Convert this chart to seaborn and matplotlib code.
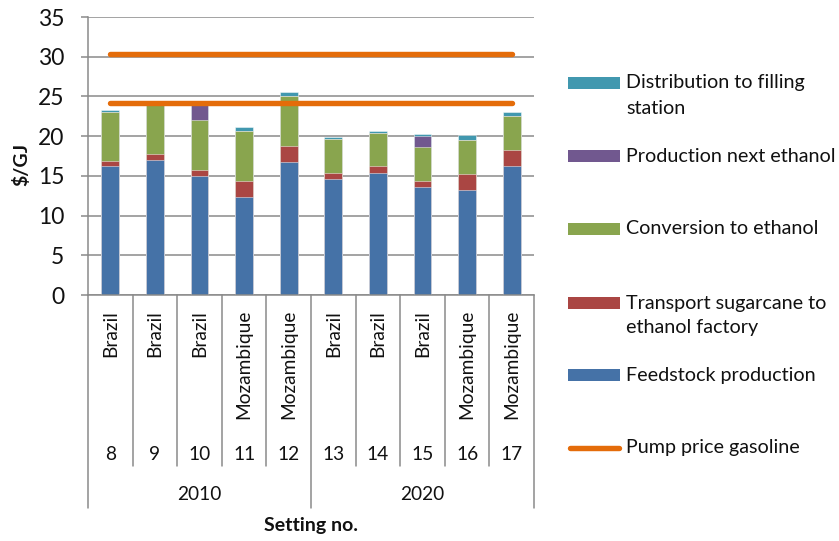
import numpy as np
import matplotlib
matplotlib.use("Agg")
import matplotlib.pyplot as plt
from matplotlib.patches import Rectangle
from matplotlib.lines import Line2D
import seaborn as sns

# Settings along the category axis
settings = ["8", "9", "10", "11", "12", "13", "14", "15", "16", "17"]
countries = ["Brazil", "Brazil", "Brazil", "Mozambique", "Mozambique",
             "Brazil", "Brazil", "Brazil", "Mozambique", "Mozambique"]
years = ["2010", "2020"]

# Cost components ($/GJ), stacked bottom to top
feedstock = [16.2, 17.0, 15.0, 12.4, 16.7, 14.6, 15.4, 13.6, 13.2, 16.2]
transport = [0.7, 0.7, 0.7, 2.0, 2.1, 0.8, 0.8, 0.75, 2.0, 2.0]
conversion = [6.2, 6.4, 6.3, 6.2, 6.2, 4.3, 4.2, 4.3, 4.35, 4.3]
production_next = [0.0, 0.0, 2.0, 0.0, 0.0, 0.0, 0.0, 1.4, 0.0, 0.0]
distribution = [0.2, 0.2, 0.2, 0.6, 0.5, 0.25, 0.3, 0.25, 0.55, 0.5]

# Gasoline pump price reference levels ($/GJ)
pump_price_high = [30.3, 30.3, 30.3, 30.3, 30.3, 30.3, 30.3, 30.3, 30.3, 30.3]
pump_price_low = [24.2, 24.2, 24.2, 24.2, 24.2, 24.2, 24.2, 24.2, 24.2, 24.2]

series_labels = ["Feedstock production", "Transport sugarcane to\nethanol factory",
                 "Conversion to ethanol", "Production next ethanol",
                 "Distribution to filling\nstation"]
series_colors = ["#4572A7", "#AA4643", "#89A54E", "#71588F", "#4198AF"]
pump_label = "Pump price gasoline"
pump_color = "#E46C0A"
grid_gray = "#8a8a8a"
text_color = "#111111"

sns.set_theme(style="white")
plt.rcParams["font.family"] = ["Lato", "DejaVu Sans"]

W, H = 839, 541
fig = plt.figure(figsize=(W / 100, H / 100), dpi=100)
ax = fig.add_axes([88 / W, 1 - 295 / H, (534 - 88) / W, (295 - 17) / H])

# Stacked bars: draw cumulative totals from the top layer down
components = [feedstock, transport, conversion, production_next, distribution]
cumulative = np.cumsum(np.array(components, dtype=float), axis=0)
for top, color in reversed(list(zip(cumulative, series_colors))):
    sns.barplot(x=settings, y=top, color=color, saturation=1, width=0.4,
                edgecolor=(1, 1, 1, 0.55), linewidth=0.6, ax=ax, zorder=2)

# Pump price lines
for level in (pump_price_high, pump_price_low):
    sns.lineplot(x=settings, y=level, color=pump_color, linewidth=3.9,
                 solid_capstyle="round", legend=False, ax=ax, zorder=4)

ax.set_xlim(-0.5, len(settings) - 0.5)
ax.set_ylim(0, 35)
ax.set_yticks(np.arange(0, 36, 5))
ax.set_xticks([])
ax.set_xlabel("")
ax.set_ylabel("")
ax.yaxis.grid(True, color=grid_gray, linewidth=1.1)
ax.set_axisbelow(True)
for side in ("top", "right"):
    ax.spines[side].set_visible(False)
for side in ("left", "bottom"):
    ax.spines[side].set_color(grid_gray)
    ax.spines[side].set_linewidth(1.1)
ax.tick_params(axis="y", which="major", left=True, direction="out", length=5,
               width=1.1, color=grid_gray, labelsize=16.5, pad=12,
               labelcolor=text_color)

# Multi-level category axis drawn below the plot
n = len(settings)
axh = 295 - 17
def fy(py):
    return (295 - py) / axh

for k in range(n + 1):
    bottom = fy(508) if k in (0, n // 2, n) else fy(466)
    fig.add_artist(Line2D([k / n, k / n], [0, bottom], transform=ax.transAxes,
                          color=grid_gray, linewidth=1.1, clip_on=False))

for i, (country, num) in enumerate(zip(countries, settings)):
    xc = (i + 0.5) / n
    fig.text(xc, fy(310), country, transform=ax.transAxes, rotation=90,
             ha="center", va="top", fontsize=13.8, color=text_color)
    fig.text(xc, fy(454), num, transform=ax.transAxes, ha="center",
             va="center", fontsize=13.8, color=text_color)

for j, year in enumerate(years):
    fig.text((j + 0.5) / 2, fy(494), year, transform=ax.transAxes,
             ha="center", va="center", fontsize=13.8, color=text_color)

fig.text(311 / W, 1 - 526 / H, "Setting no.", ha="center", va="center",
         fontsize=14, fontweight="bold", color=text_color)
fig.text(21 / W, 1 - 164 / H, "$/GJ", rotation=90, ha="center", va="center",
         fontsize=14, fontweight="bold", color=text_color)

# Legend, listed top to bottom
legend_rows = list(zip(series_labels[::-1], series_colors[::-1]))
row_y = [83, 156, 229, 303, 375]
for (label, color), py in zip(legend_rows, row_y):
    fig.add_artist(Rectangle((568 / W, 1 - (py + 6) / H), 52 / W, 12 / H,
                             facecolor=color, edgecolor="none"))
    for li, line in enumerate(label.split("\n")):
        fig.text(626 / W, 1 - (py + 25 * li) / H, line, ha="left",
                 va="center", fontsize=14.2, color=text_color)
fig.add_artist(Line2D([570 / W, 619 / W], [1 - 448 / H, 1 - 448 / H],
                      color=pump_color, linewidth=3.9, solid_capstyle="round"))
fig.text(626 / W, 1 - 448 / H, pump_label, ha="left", va="center",
         fontsize=14.2, color=text_color)

fig.savefig("out.png", dpi=100, facecolor="white")
